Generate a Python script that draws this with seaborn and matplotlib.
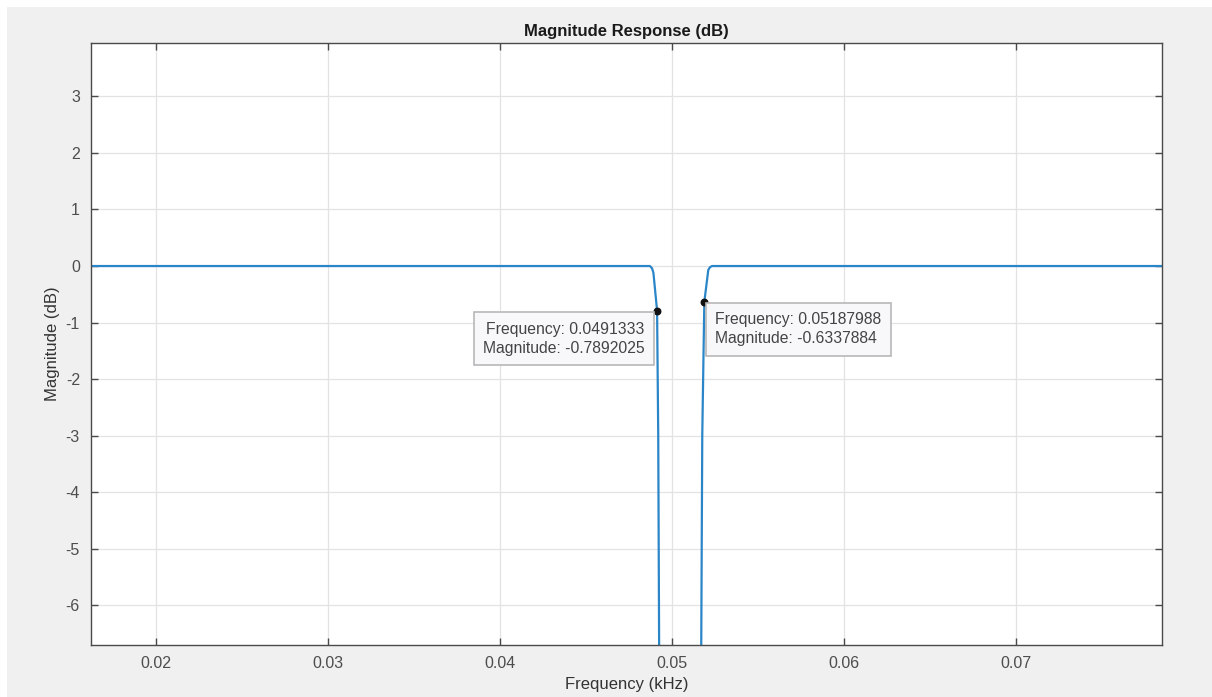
import numpy as np
import pandas as pd
import matplotlib
matplotlib.use('Agg')
import matplotlib.pyplot as plt
import seaborn as sns
from matplotlib.patches import Rectangle

# values (kHz, dB)
freq = [0.0162, 0.0486, 0.04872, 0.04884, 0.04892, 0.0491333, 0.04920, 0.04927,
        0.0505, 0.05168, 0.05176, 0.05187988, 0.05211, 0.05221, 0.05233, 0.0785]
mag = [0, 0, 0, -0.04, -0.12, -0.7892025, -3.0, -8.0,
       -60.0, -8.0, -3.0, -0.6337884, -0.07, -0.02, 0, 0]

tip_freq = [0.0491333, 0.05187988]
tip_mag = [-0.7892025, -0.6337884]
tip_text = ['Frequency: 0.0491333\nMagnitude: -0.7892025',
            'Frequency: 0.05187988\nMagnitude: -0.6337884']

xticks = [0.02, 0.03, 0.04, 0.05, 0.06, 0.07]
yticks = [3, 2, 1, 0, -1, -2, -3, -4, -5, -6]

sns.set_theme(style='whitegrid')
plt.rcParams['font.family'] = ['Liberation Sans', 'DejaVu Sans']

df = pd.DataFrame({'freq': freq, 'mag': mag})

fig = plt.figure(figsize=(12.12, 6.97), dpi=100)
fig.patch.set_facecolor('white')
bg = Rectangle((7 / 1212, 0), 1 - 7 / 1212, 1 - 7 / 697,
               transform=fig.transFigure, facecolor='#f0f0f0',
               edgecolor='none', zorder=-10)
fig.add_artist(bg)
ax = fig.add_axes([91 / 1212, 1 - 645 / 697, (1162 - 91) / 1212, (645 - 43) / 697])
ax.set_facecolor('white')

sns.lineplot(data=df, x='freq', y='mag', sort=False, estimator=None,
             color='#2b86c9', linewidth=1.6, ax=ax)
ax.scatter(tip_freq, tip_mag, s=22, color='#111111', zorder=5)

ax.set_xlim(0.01622, 0.07849)
ax.set_ylim(-6.70, 3.943)
ax.set_xticks(xticks)
ax.set_xticklabels([str(t) for t in xticks])
ax.set_yticks(yticks)
ax.set_yticklabels([str(t) for t in yticks])

ax.grid(True, color='#e3e3e3', linewidth=0.9)
for s in ax.spines.values():
    s.set_visible(True)
    s.set_color('#4a4a4a')
    s.set_linewidth(1.0)
ax.tick_params(axis='both', direction='in', length=5, width=1.0, color='#4a4a4a',
               labelsize=11.5, labelcolor='#4d4d4d', top=True, right=True,
               bottom=True, left=True, pad=8)

ax.set_title('Magnitude Response (dB)', fontsize=12, fontweight='bold',
             color='#1a1a1a', pad=5)
ax.set_xlabel('Frequency (kHz)', fontsize=12, color='#333333', labelpad=4)
ax.set_ylabel('Magnitude (dB)', fontsize=12, color='#333333', labelpad=4)

box = dict(boxstyle='square,pad=0.6', facecolor='#f8f8fb', edgecolor='#b8b8b8',
           linewidth=1.2)
ax.annotate(tip_text[0], (tip_freq[0], tip_mag[0]), xytext=(-9, -8),
            textcoords='offset points', ha='right', va='top', multialignment='right',
            fontsize=11.3, linespacing=1.35, color='#444444', bbox=box, zorder=6)
ax.annotate(tip_text[1], (tip_freq[1], tip_mag[1]), xytext=(8, -7.5),
            textcoords='offset points', ha='left', va='top', multialignment='left',
            fontsize=11.3, linespacing=1.35, color='#444444', bbox=box, zorder=6)

fig.savefig('out.png', dpi=100, facecolor=fig.get_facecolor())
